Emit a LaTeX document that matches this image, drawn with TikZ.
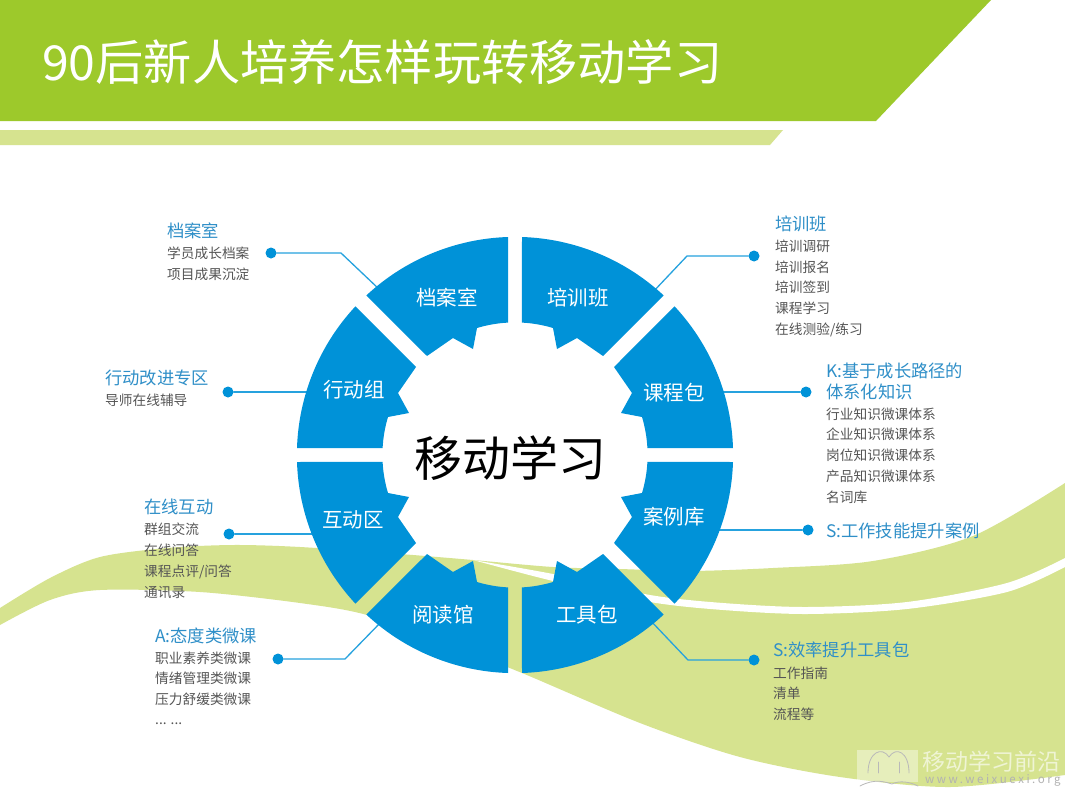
\documentclass[tikz,border=0pt]{standalone}
\usepackage{fontspec}
\setmainfont{Noto Sans CJK SC}
\usepackage{tikz}
\definecolor{bandgreen}{HTML}{9DC92B}
\definecolor{wavegreen}{HTML}{D6E38F}
\definecolor{wheelblue}{HTML}{0092D8}
\definecolor{headblue}{HTML}{2F8FC8}
\definecolor{bodygray}{HTML}{555555}
\tikzset{
  headtxt/.style={anchor=west, inner sep=0pt, text height=14.5pt, text depth=2.5pt, text=headblue, font=\fontsize{17.3}{20}\selectfont},
  bodytxt/.style={anchor=west, inner sep=0pt, text height=12pt, text depth=2pt, text=bodygray, font=\fontsize{13.7}{16}\selectfont},
  wheeltxt/.style={inner sep=0pt, text=white, font=\fontsize{20.5}{24}\selectfont},
  dotnode/.style={circle, fill=wheelblue, inner sep=0pt, minimum size=11pt},
  linkline/.style={color=wheelblue!85!white, line width=1.3pt},
  logoline/.style={color=white!45!gray, line width=0.8pt},
}
% one wheel piece, the four arguments are the matrix that places it
\newcommand{\wheelseg}[4]{
\fill[wheelblue, cm={#1,#2,#3,#4,(515,455)}] (7,-218) arc[start angle=88.16, end angle=47, radius=218pt]
  -- (88,-99) -- (62,-117) -- (42,-106) -- (38,-127)
  arc[start angle=73.3, end angle=87, radius=132.5pt] -- cycle;
}
\begin{document}
\begin{tikzpicture}[line cap=round,line join=round,x=1pt,y=-1pt]
\useasboundingbox (0,0) rectangle (1065,792);
\fill[white] (0,0) rectangle (1065,792);

% title band
\fill[bandgreen] (0,0) -- (991,0) -- (876,121) -- (0,121) -- cycle;
\fill[wavegreen] (0,130) -- (783,130) -- (770,145) -- (0,145) -- cycle;
\node[anchor=west, inner sep=0pt, text=white, font=\fontsize{48.2}{50}\selectfont] (title) at (42,62) {90后新人培养怎样玩转移动学习};

% waves
\fill[wavegreen] plot[smooth] coordinates {(0,608) (50,578) (100,557) (167,548) (233,545) (300,547) (400,554) (473,560) (553,567) (620,569) (690,571) (773,568) (873,561) (973,536) (1065,483)}
  -- plot[smooth] coordinates {(1065,775) (950,787) (840,777) (740,757) (640,723) (522,673) (450,645) (367,615) (300,603) (200,592) (100,590) (50,600) (0,625)} -- cycle;
\fill[white] plot[smooth] coordinates {(473,560) (553,574) (650,595) (723,603) (807,607) (907,602) (1007,583) (1065,558)}
  -- plot[smooth] coordinates {(1065,567) (1007,592) (907,609) (807,614) (723,610) (650,602) (553,581) (473,560)} -- cycle;

% watermark
\fill[white, opacity=0.4] (857,750) rectangle (918,782);
\draw[logoline] (868,773) .. controls (868,752) and (882,746) .. (889,757) .. controls (896,746) and (909,752) .. (909,773);
\draw[logoline] (878,773) -- (878,762);
\draw[logoline] (899,773) -- (899,762);
\draw[logoline] (860,786) .. controls (875,778) and (885,782) .. (892,784) .. controls (900,780) and (910,782) .. (918,786);
\node[anchor=west, inner sep=0pt, text=white!62!wavegreen, font=\fontsize{23}{25}\selectfont] (markcn) at (922,762) {移动学习前沿};
\node[anchor=west, inner sep=0pt, text=gray!60, font=\fontsize{11.5}{13}\selectfont\addfontfeature{LetterSpace=22}] (markurl) at (925,780) {www.weixuexi.org};

% connectors
\node[dotnode] (daDot) at (271,253) {};
\coordinate (daBend) at (341,253);
\coordinate (daEnd) at (380,290);
\draw[linkline] (daDot) -- (daBend) -- (daEnd);
\node[dotnode] (peiDot) at (754,256) {};
\coordinate (peiBend) at (687,256);
\coordinate (peiEnd) at (652,293);
\draw[linkline] (peiDot) -- (peiBend) -- (peiEnd);
\node[dotnode] (xingDot) at (228,392) {};
\coordinate (xingEnd) at (320,392);
\draw[linkline] (xingDot) -- (xingEnd);
\node[dotnode] (keDot) at (806,392) {};
\coordinate (keEnd) at (710,392);
\draw[linkline] (keDot) -- (keEnd);
\node[dotnode] (huDot) at (229,534) {};
\coordinate (huEnd) at (320,534);
\draw[linkline] (huDot) -- (huEnd);
\node[dotnode] (anDot) at (808,530) {};
\coordinate (anEnd) at (710,530);
\draw[linkline] (anDot) -- (anEnd);
\node[dotnode] (yueDot) at (278,659) {};
\coordinate (yueBend) at (345,659);
\coordinate (yueEnd) at (382,621);
\draw[linkline] (yueDot) -- (yueBend) -- (yueEnd);
\node[dotnode] (gongDot) at (754,660) {};
\coordinate (gongBend) at (688,660);
\coordinate (gongEnd) at (650,620);
\draw[linkline] (gongDot) -- (gongBend) -- (gongEnd);

% wheel
\foreach \a/\b/\c/\d in {1/0/0/1,-1/0/0/1,1/0/0/-1,-1/0/0/-1,0/1/1/0,0/-1/1/0,0/1/-1/0,0/-1/-1/0}
{\wheelseg{\a}{\b}{\c}{\d}}
\node[wheeltxt] (wDang) at (447,298) {档案室};
\node[wheeltxt] (wPei) at (578,298) {培训班};
\node[wheeltxt] (wXing) at (354,390) {行动组};
\node[wheeltxt] (wKe) at (674,393) {课程包};
\node[wheeltxt] (wHu) at (353,520) {互动区};
\node[wheeltxt] (wAn) at (674,517) {案例库};
\node[wheeltxt] (wYue) at (443,615) {阅读馆};
\node[wheeltxt] (wGong) at (587,615) {工具包};
\node[inner sep=0pt, text=black, font=\fontsize{48}{50}\selectfont] (hub) at (510,458) {移动学习};

% text blocks
\node[headtxt] (daHead) at (167,231) {档案室};
\foreach \y/\txt in {253/学员成长档案,274/项目成果沉淀}
\node[bodytxt] (da\y) at (167,\y) {\txt};
\node[headtxt] (xingHead) at (105,378) {行动改进专区};
\node[bodytxt] (xing400) at (105,400) {导师在线辅导};
\node[headtxt] (huHead) at (144,507) {在线互动};
\foreach \y/\txt in {529/群组交流,550/在线问答,571/{课程点评/问答},592/通讯录}
\node[bodytxt] (hu\y) at (144,\y) {\txt};
\node[headtxt] (yueHead) at (155,636) {A:态度类微课};
\foreach \y/\txt in {658/职业素养类微课,678/情绪管理类微课,699/压力舒缓类微课}
\node[bodytxt] (yue\y) at (155,\y) {\txt};
\node[bodytxt] (yue719) at (155,719) {... ...};
\node[headtxt] (peiHead) at (775,224) {培训班};
\foreach \y/\txt in {246/培训调研,267/培训报名,287/培训签到,308/课程学习,329/{在线测验/练习}}
\node[bodytxt] (pei\y) at (775,\y) {\txt};
\node[headtxt] (keHeadA) at (826,371) {K:基于成长路径的};
\node[headtxt] (keHeadB) at (826,392) {体系化知识};
\foreach \y/\txt in {414/行业知识微课体系,434/企业知识微课体系,455/岗位知识微课体系,476/产品知识微课体系,497/名词库}
\node[bodytxt] (ke\y) at (826,\y) {\txt};
\node[headtxt] (anHead) at (826,531) {S:工作技能提升案例};
\node[headtxt] (gongHead) at (773,650) {S:效率提升工具包};
\foreach \y/\txt in {673/工作指南,693/清单,714/流程等}
\node[bodytxt] (gong\y) at (773,\y) {\txt};
\end{tikzpicture}
\end{document}
